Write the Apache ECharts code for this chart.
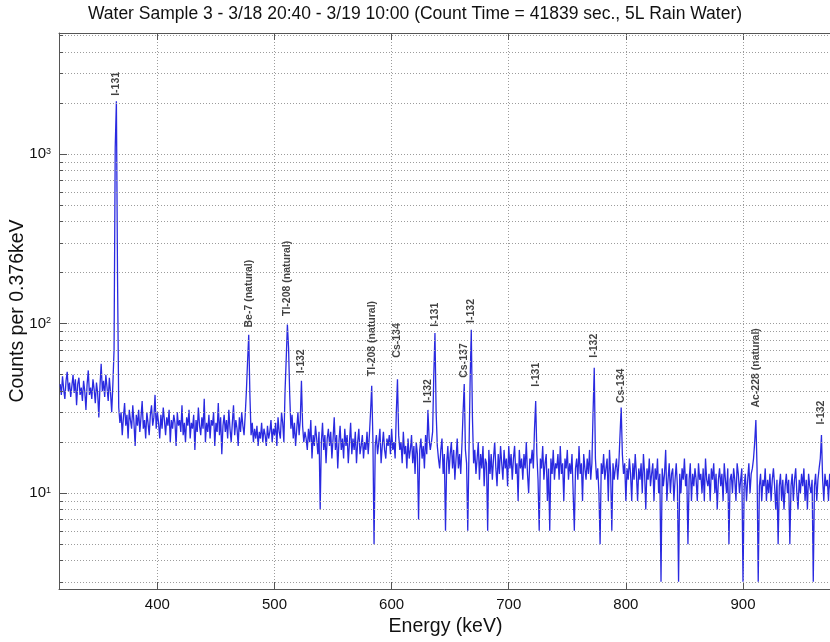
<!DOCTYPE html>
<html><head><meta charset="utf-8">
<script src="https://cdn.jsdelivr.net/npm/echarts@6/dist/echarts.min.js"></script>
<style>html,body{margin:0;padding:0;background:#fff}#c{width:830px;height:642px}</style>
</head><body><div id="c"></div><script>
// Spectrum: counts per channel, energy = E0 + i*STEP (keV)
const E0 = 317, STEP = 1;
const counts = [
/*317*/ 44,38,49,41,36,46,52,40,45,37,
/*327*/ 43,50,39,47,33,44,48,38,42,35,
/*337*/ 46,40,31,44,53,38,42,36,47,41,
/*347*/ 34,45,39,28,43,58,40,46,37,50,
/*357*/ 42,35,48,39,30,44,70,1100,2050,180,
/*367*/ 32,26,30,22,28,34,25,29,21,31,
/*377*/ 27,24,33,26,19,29,25,31,23,28,
/*387*/ 35,24,27,21,30,26,22,29,33,25,
/*397*/ 28,38,24,30,26,21,29,24,32,27,
/*407*/ 22,28,25,31,20,27,24,29,26,19,
/*417*/ 30,25,27,23,33,22,26,20,28,25,
/*427*/ 31,21,26,24,29,18,27,23,32,25,
/*437*/ 22,28,24,36,20,26,23,29,21,27,
/*447*/ 25,30,19,26,23,34,22,28,17,25,
/*457*/ 29,23,27,21,31,24,20,26,33,22,
/*467*/ 27,24,19,28,23,30,25,22,29,40,
/*477*/ 60,86,38,22,26,20,24,21,25,19,
/*487*/ 23,21,26,20,24,22,19,25,21,23,
/*497*/ 27,20,24,22,26,19,28,23,21,30,
/*507*/ 26,20,40,62,99,72,38,24,29,21,
/*517*/ 26,19,24,30,22,27,46,25,20,23,
/*527*/ 21,18,24,20,27,16,22,19,25,21,
/*537*/ 17,23,8,20,26,18,22,15,21,24,
/*547*/ 19,23,16,21,28,18,22,14,20,25,
/*557*/ 18,21,16,24,19,22,15,20,26,17,
/*567*/ 21,18,23,15,20,24,17,19,22,16,
/*577*/ 20,18,23,17,22,30,43,21,5,19,
/*587*/ 22,17,20,24,15,19,23,18,16,21,
/*597*/ 19,22,17,24,18,20,16,30,47,22,
/*607*/ 18,20,15,23,17,19,14,21,16,18,
/*617*/ 22,15,19,13,20,17,7,18,21,16,
/*627*/ 19,14,22,17,31,21,18,20,23,50,
/*637*/ 88,30,19,16,14,18,21,13,17,6,
/*647*/ 15,19,13,17,20,14,18,12,16,21,
/*657*/ 14,17,13,19,30,44,18,15,6,17,45,92,28,15,
/*671*/ 18,13,16,20,12,17,14,19,11,16,
/*681*/ 15,6,18,13,17,12,16,20,14,11,
/*691*/ 17,13,19,15,12,18,14,16,11,19,
/*701*/ 14,17,12,16,19,13,15,9,18,14,
/*711*/ 16,12,17,14,20,13,10,16,15,18,
/*721*/ 14,24,35,17,12,6,16,14,19,12,
/*731*/ 15,17,9,14,6,16,13,18,12,15,
/*741*/ 14,17,12,19,13,15,9,16,14,18,
/*751*/ 12,15,13,17,10,6,14,16,12,19,
/*761*/ 13,15,9,17,14,12,16,13,18,12,
/*771*/ 15,30,55,16,12,14,10,5,15,13,
/*781*/ 17,12,14,16,9,18,13,6,15,12,
/*791*/ 14,16,12,15,22,32,17,13,15,9,
/*801*/ 14,12,16,13,9,15,12,17,13,9,
/*811*/ 14,12,15,10,17,13,8,14,12,16,
/*821*/ 11,13,15,9,14,12,16,10,13,3,
/*831*/ 14,11,13,18,9,12,15,10,13,14,
/*841*/ 9,12,15,11,3,13,10,14,12,16,
/*851*/ 11,13,5,12,15,9,13,11,14,12,
/*861*/ 9,15,12,13,10,14,9,16,12,11,
/*871*/ 13,9,14,12,15,10,13,8,12,14,
/*881*/ 11,13,9,15,12,10,14,5,12,13,
/*891*/ 10,14,12,9,15,13,10,12,14,3,
/*901*/ 11,13,9,12,15,10,13,14,16,20,
/*911*/ 27,14,3,11,13,9,12,11,14,9,
/*921*/ 12,10,13,9,12,14,11,8,12,5,
/*931*/ 11,13,9,12,8,11,13,10,12,5,
/*941*/ 11,13,9,12,14,10,8,12,10,13,
/*951*/ 11,14,9,12,8,13,11,10,12,3,
/*961*/ 11,13,9,12,14,16,22,12,9,13,
/*971*/ 11,12,9,13,10,12
];
const peakEnergies = [365, 478, 511, 523, 583, 605, 631, 637, 662, 668, 723, 773, 796, 911, 967];
const peakNames = ['I-131','Be-7 (natural)','Tl-208 (natural)','I-132','Tl-208 (natural)','Cs-134','I-132','I-131','Cs-137','I-132','I-131','I-132','Cs-134','Ac-228 (natural)','I-132'];
const peakLabelBase = [2210, 95, 111, 51, 49, 63, 34, 96, 48, 101, 42.5, 63, 34, 32, 25.4];
const minorGrid = [3,4,5,6,7,8,9,20,30,40,50,60,70,80,90,200,300,400,500,600,700,800,900,2000,3000,4000,5000];
const X_MIN = 316, X_MAX = 976, Y_MIN = 2.72, Y_MAX = 5190;
const titleText = 'Water Sample 3 - 3/18 20:40 - 3/19 10:00 (Count Time = 41839 sec., 5L Rain Water)';
const xName = 'Energy (keV)', yName = 'Counts per 0.376keV';

const FONT = "'Liberation Sans', Arial, Helvetica, sans-serif";
const chart = echarts.init(document.getElementById('c'), null, {renderer: 'canvas'});
const gridLine = {type: [1, 2], color: '#9c9c9c', width: 1};
chart.setOption({
  animation: false,
  backgroundColor: '#fff',
  title: {text: titleText, left: 'center', top: 0,
    textStyle: {fontFamily: FONT, fontSize: 17.5, fontWeight: 'normal', color: '#111'}},
  grid: {left: 59, right: -2, top: 33, bottom: 53, outerBoundsMode: 'none', containLabel: false},
  xAxis: [{
    type: 'value', min: X_MIN, max: X_MAX, splitNumber: 6,
    name: xName, nameLocation: 'middle', nameGap: 28, nameMoveOverlap: false,
    nameTextStyle: {fontFamily: FONT, fontSize: 19.5, color: '#111'},
    axisLine: {show: true, lineStyle: {color: '#555', width: 1}},
    axisTick: {show: true, inside: true, length: 7, lineStyle: {color: '#555'}},
    axisLabel: {fontFamily: FONT, fontSize: 15, color: '#111', margin: 8, showMinLabel: false, showMaxLabel: false},
    splitLine: {show: true, lineStyle: gridLine}
  }, {
    type: 'value', position: 'top', min: X_MIN, max: X_MAX, splitNumber: 6,
    axisLine: {show: true, lineStyle: {color: '#555', width: 1}},
    axisTick: {show: true, inside: true, length: 7, lineStyle: {color: '#555'}},
    axisLabel: {show: false}, splitLine: {show: false}
  }],
  yAxis: {
    type: 'log', logBase: 10, min: Y_MIN, max: Y_MAX,
    name: yName, nameLocation: 'middle', nameGap: 31, nameRotate: 90, nameMoveOverlap: false,
    nameTextStyle: {fontFamily: FONT, fontSize: 19.5, color: '#111'},
    axisLine: {show: true, lineStyle: {color: '#555', width: 1}},
    axisTick: {show: true, inside: true, length: 8, lineStyle: {color: '#555'}},
    axisLabel: {
      margin: 8,
      formatter: v => { const l = Math.log10(v), r = Math.round(l); return Math.abs(l - r) < 1e-6 ? '{b|10}{s|' + r + '}' : ''; },
      rich: {
        b: {fontFamily: FONT, fontSize: 15, color: '#111'},
        s: {fontFamily: FONT, fontSize: 9, color: '#111', verticalAlign: 'top', padding: [0, 0, 6, 0]}
      }
    },
    splitLine: {show: true, lineStyle: gridLine}
  },
  series: [
    {type: 'line', data: [], silent: true, z: 1,
      markLine: {silent: true, symbol: 'none', animation: false, label: {show: false},
        emphasis: {disabled: true}, lineStyle: gridLine,
        data: minorGrid.map(v => ({yAxis: v}))}},
    {type: 'line', data: [], silent: true, z: 1,
      markLine: {silent: true, symbol: 'none', animation: false, label: {show: false},
        emphasis: {disabled: true}, lineStyle: {type: 'solid', color: '#555', width: 1},
        data: minorGrid.map(v => [{coord: [X_MIN, v]}, {coord: [X_MIN + 3.5, v]}])}},
    {type: 'line', data: counts.map((c, i) => [E0 + i * STEP, c]), showSymbol: false, symbol: 'none',
      lineStyle: {color: '#2a2ae0', width: 1.3}, z: 3, silent: true},
    {type: 'scatter', z: 4, symbolSize: 0, silent: true,
      data: peakEnergies.map((e, i) => [e, peakLabelBase[i], peakNames[i]]),
      label: {show: true, formatter: p => p.data[2], rotate: 90, position: 'top', distance: 0,
        align: 'left', verticalAlign: 'middle', fontFamily: FONT, fontSize: 10.5, fontWeight: 'bold', color: '#111'}}
  ]
});
</script></body></html>
